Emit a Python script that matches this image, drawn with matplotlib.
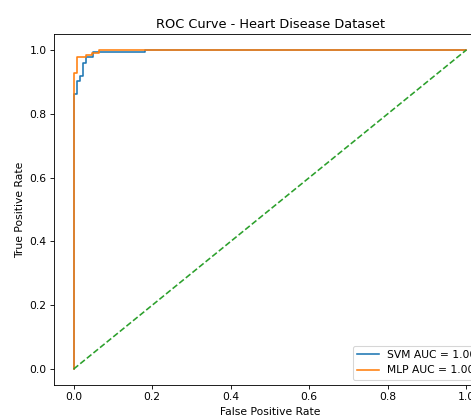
import matplotlib
matplotlib.use("Agg")
import matplotlib.pyplot as plt

# ROC points
svm_fpr = [0.0, 0.0, 0.009, 0.009, 0.016, 0.016, 0.024, 0.024, 0.031, 0.031,
           0.049, 0.049, 0.181, 0.181, 1.0]
svm_tpr = [0.0, 0.861, 0.861, 0.903, 0.903, 0.918, 0.918, 0.960, 0.960, 0.977,
           0.977, 0.993, 0.993, 1.0, 1.0]

mlp_fpr = [0.0, 0.0, 0.009, 0.009, 0.032, 0.032, 0.048, 0.048, 0.064, 0.064, 1.0]
mlp_tpr = [0.0, 0.927, 0.927, 0.979, 0.979, 0.984, 0.984, 0.992, 0.992, 1.0, 1.0]

svm_auc = 0.998
mlp_auc = 0.999

dpi = 77
fig = plt.figure(figsize=(471 / dpi, 416 / dpi), dpi=dpi)
# the axes run past the right edge, like the cropped original
ax = fig.add_axes([54 / 471, 31 / 416, 432 / 471, 351 / 416])

ax.plot(svm_fpr, svm_tpr, label=f"SVM AUC = {svm_auc:.2f}")
ax.plot(mlp_fpr, mlp_tpr, label=f"MLP AUC = {mlp_auc:.2f}")
ax.plot([0, 1], [0, 1], "--")

ax.set_xlim(-0.05, 1.05)
ax.set_ylim(-0.05, 1.05)
ax.set_xlabel("False Positive Rate")
ax.set_ylabel("True Positive Rate")
ax.set_title("ROC Curve - Heart Disease Dataset")
ax.legend(loc="lower right")

fig.savefig("out.png", dpi=dpi)
